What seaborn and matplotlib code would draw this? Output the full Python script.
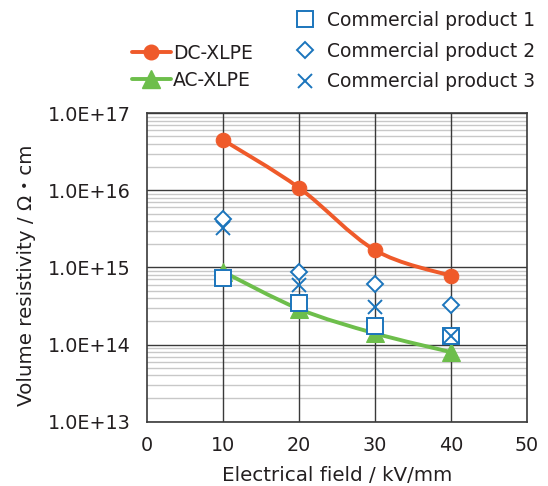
import numpy as np
import pandas as pd
import matplotlib
matplotlib.use("Agg")
import matplotlib.pyplot as plt
from matplotlib.path import Path
from matplotlib.patches import PathPatch
from matplotlib.lines import Line2D
from matplotlib.ticker import FixedLocator, FuncFormatter, NullFormatter
import seaborn as sns

# Electrical field (kV/mm)
field = [10, 20, 30, 40]

# Volume resistivity (ohm*cm)
dc_xlpe = [4.5e16, 1.08e16, 1.68e15, 7.8e14]
ac_xlpe = [8.8e14, 2.9e14, 1.4e14, 8.0e13]
product_1 = [7.4e14, 3.5e14, 1.73e14, 1.3e14]
product_2 = [4.3e15, 8.8e14, 6.2e14, 3.3e14]
product_3 = [3.3e15, 6.0e14, 3.1e14, 1.3e14]

y_ticks = [1e13, 1e14, 1e15, 1e16, 1e17]
x_ticks = [0, 10, 20, 30, 40, 50]

ORANGE = "#EF5A2A"
GREEN = "#6DBE4B"
BLUE = "#1B75BC"
TEXT = "#231F20"
FS_TICK = 13.8
FS_LEG = 13.5
FS_LABEL = 14.3

sns.set_theme(style="white")
plt.rcParams["font.family"] = ["DejaVu Sans", "Noto Sans CJK JP"]

fig = plt.figure(figsize=(5.48, 4.86), dpi=100)
ax = fig.add_axes([0.2688, 0.1323, 0.6922, 0.6346])
ax.set_yscale("log")
ax.set_xlim(0, 50)
ax.set_ylim(1e13, 1e17)


def smooth_path(xs, ys):
    """Catmull-Rom style Bezier through the points, computed in log-y space."""
    px = np.asarray(xs, float)
    py = np.log10(np.asarray(ys, float))
    n = len(px)
    verts = [(px[0], 10 ** py[0])]
    codes = [Path.MOVETO]
    for i in range(n - 1):
        i0 = max(i - 1, 0)
        i3 = min(i + 2, n - 1)
        c1x = px[i] + (px[i + 1] - px[i0]) / 6
        c1y = py[i] + (py[i + 1] - py[i0]) / 6
        c2x = px[i + 1] - (px[i3] - px[i]) / 6
        c2y = py[i + 1] - (py[i3] - py[i]) / 6
        verts += [(c1x, 10 ** c1y), (c2x, 10 ** c2y), (px[i + 1], 10 ** py[i + 1])]
        codes += [Path.CURVE4] * 3
    return Path(verts, codes)


# Grid: light minor lines, dark major lines
for dec in range(13, 17):
    for m in range(2, 10):
        ax.axhline(m * 10 ** dec, color="#C8C8C8", lw=1.0, zorder=0)
for v in y_ticks:
    ax.axhline(v, color="#3A3A3A", lw=1.0, zorder=0.5)
for v in x_ticks[1:-1]:
    ax.axvline(v, color="#3A3A3A", lw=1.0, zorder=0.5)

# Smoothed series lines
for ys, col in [(dc_xlpe, ORANGE), (ac_xlpe, GREEN)]:
    ax.add_patch(PathPatch(smooth_path(field, ys), facecolor="none",
                           edgecolor=col, lw=2.8, zorder=2, capstyle="round"))

df = pd.DataFrame({"field": field, "dc": dc_xlpe, "ac": ac_xlpe,
                   "p1": product_1, "p2": product_2, "p3": product_3})

sns.lineplot(data=df, x="field", y="ac", ax=ax, marker="^", markersize=13,
             color=GREEN, markeredgecolor=GREEN, linestyle="none", zorder=3)
sns.lineplot(data=df, x="field", y="dc", ax=ax, marker="o", markersize=10.5,
             color=ORANGE, markeredgecolor=ORANGE, linestyle="none", zorder=3)
sns.lineplot(data=df, x="field", y="p1", ax=ax, marker="s", markersize=11,
             color=BLUE, markerfacecolor="white", markeredgecolor=BLUE,
             markeredgewidth=1.4, linestyle="none", zorder=4)
sns.lineplot(data=df, x="field", y="p2", ax=ax, marker="D", markersize=8,
             color=BLUE, markerfacecolor="white", markeredgecolor=BLUE,
             markeredgewidth=1.4, linestyle="none", zorder=4)
sns.lineplot(data=df, x="field", y="p3", ax=ax, marker="x", markersize=10.5,
             color=BLUE, markeredgecolor=BLUE, markeredgewidth=1.4,
             linestyle="none", zorder=4)

# Axes and ticks
ax.xaxis.set_major_locator(FixedLocator(x_ticks))
ax.yaxis.set_major_locator(FixedLocator(y_ticks))
ax.yaxis.set_minor_formatter(NullFormatter())
ax.yaxis.set_major_formatter(FuncFormatter(lambda v, p: f"1.0E+{int(round(np.log10(v)))}"))
ax.tick_params(axis="both", length=0, labelsize=FS_TICK, labelcolor=TEXT)
ax.tick_params(axis="y", pad=12)
ax.tick_params(axis="x", pad=10)
ax.tick_params(axis="y", which="minor", length=0)
for s in ax.spines.values():
    s.set_color("#3A3A3A")
    s.set_linewidth(1.2)
ax.set_xlabel("Electrical field / kV/mm", fontsize=FS_LABEL, color=TEXT)
ax.set_ylabel("Volume resistivity / Ω・cm", fontsize=FS_LABEL, color=TEXT)
ax.xaxis.set_label_coords(0.5, -0.145)
ax.yaxis.set_label_coords(-0.294, 0.476)

# Legends
h_dc = Line2D([], [], color=ORANGE, lw=2.8, marker="o", markersize=10.5)
h_ac = Line2D([], [], color=GREEN, lw=2.8, marker="^", markersize=13)
leg1 = fig.legend([h_dc, h_ac], ["DC-XLPE", "AC-XLPE"], loc="upper left",
                  bbox_to_anchor=(131.5 / 548, 1 - 44 / 486), frameon=False,
                  fontsize=FS_LEG, handlelength=2.1, handletextpad=0.12,
                  labelspacing=0.43, borderaxespad=0, borderpad=0)
h_p1 = Line2D([], [], color=BLUE, ls="none", marker="s", markersize=11,
              markerfacecolor="white", markeredgewidth=1.4)
h_p2 = Line2D([], [], color=BLUE, ls="none", marker="D", markersize=8,
              markerfacecolor="white", markeredgewidth=1.4)
h_p3 = Line2D([], [], color=BLUE, ls="none", marker="x", markersize=10.5,
              markeredgewidth=1.4)
leg2 = fig.legend([h_p1, h_p2, h_p3],
                  ["Commercial product 1", "Commercial product 2", "Commercial product 3"],
                  loc="upper left", bbox_to_anchor=(294 / 548, 1 - 11 / 486),
                  frameon=False, fontsize=FS_LEG, handlelength=1.15,
                  handletextpad=0.62, labelspacing=0.62, borderaxespad=0, borderpad=0)
for leg in (leg1, leg2):
    for t in leg.get_texts():
        t.set_color(TEXT)

fig.savefig("out.png", dpi=100)
